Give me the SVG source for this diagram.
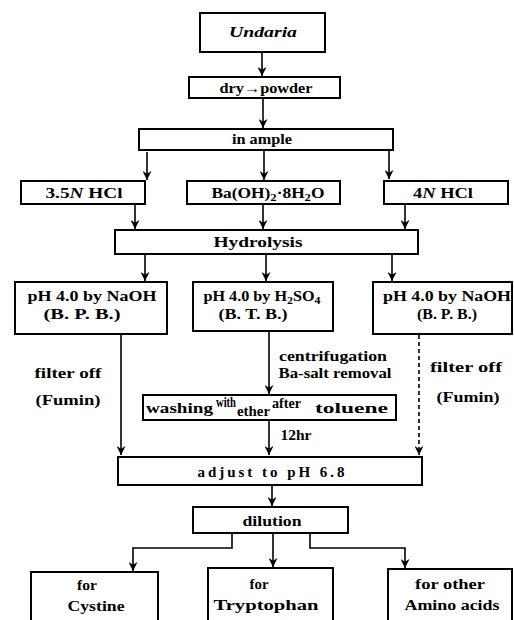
<svg xmlns="http://www.w3.org/2000/svg" width="514" height="620" viewBox="0 0 514 620">
<defs>
<style>
.box{fill:#fff;stroke:#000;stroke-width:2}
.t{font-family:"Liberation Serif","Times New Roman",serif;font-weight:bold;font-size:15px;fill:#000;text-anchor:middle}
.s{font-size:11px}
.w{font-size:14px}
.c{stroke:#000;stroke-width:1.6;fill:none}
.d{stroke-dasharray:4,3}
</style>
<marker id="ah" viewBox="0 0 10 10" refX="10" refY="5" markerWidth="9" markerHeight="9" markerUnits="userSpaceOnUse" orient="auto">
<path d="M0,0 L10,5 L0,10 L3,5 z" fill="#000"/>
</marker>
</defs>
<rect width="514" height="620" fill="#fff"/>

<g id="connectors">
<line class="c" x1="262" y1="52" x2="262" y2="76" marker-end="url(#ah)"/>
<line class="c" x1="263" y1="98" x2="263" y2="128" marker-end="url(#ah)"/>
<line class="c" x1="147" y1="152" x2="147" y2="180" marker-end="url(#ah)"/>
<line class="c" x1="264" y1="150" x2="264" y2="180" marker-end="url(#ah)"/>
<line class="c" x1="389" y1="150" x2="389" y2="179" marker-end="url(#ah)"/>
<line class="c" x1="135" y1="205" x2="135" y2="229" marker-end="url(#ah)"/>
<line class="c" x1="263" y1="205" x2="263" y2="229" marker-end="url(#ah)"/>
<line class="c" x1="405" y1="205" x2="405" y2="229" marker-end="url(#ah)"/>
<line class="c" x1="145" y1="254" x2="145" y2="281" marker-end="url(#ah)"/>
<line class="c" x1="266" y1="254" x2="266" y2="281" marker-end="url(#ah)"/>
<line class="c" x1="392" y1="254" x2="392" y2="281" marker-end="url(#ah)"/>
<line class="c" x1="121" y1="335" x2="121" y2="455" marker-end="url(#ah)"/>
<line class="c" x1="269" y1="332" x2="269" y2="394" marker-end="url(#ah)"/>
<line class="c d" x1="419" y1="335" x2="419" y2="455" marker-end="url(#ah)"/>
<line class="c" x1="269" y1="421" x2="269" y2="455" marker-end="url(#ah)"/>
<line class="c" x1="272" y1="486" x2="272" y2="506" marker-end="url(#ah)"/>
<polyline class="c" points="232,534 232,548 133,548 133,571" marker-end="url(#ah)"/>
<line class="c" x1="273" y1="534" x2="273" y2="567" marker-end="url(#ah)"/>
<polyline class="c" points="310,534 310,548 405,548 405,568" marker-end="url(#ah)"/>
</g>

<g id="undaria">
<rect class="box" x="200" y="13" width="125" height="39"/>
<text class="t" x="263" y="37" font-style="italic" font-size="17" textLength="68" lengthAdjust="spacingAndGlyphs">Undaria</text>
</g>
<g id="drypowder">
<rect class="box" x="189" y="77" width="151" height="21"/>
<text class="t" x="266" y="93" textLength="93" lengthAdjust="spacingAndGlyphs">dry→powder</text>
</g>
<g id="inample">
<rect class="box" x="139" y="129" width="254" height="21"/>
<text class="t" x="262" y="144" textLength="60" lengthAdjust="spacingAndGlyphs">in ample</text>
</g>
<g id="hcl35">
<rect class="box" x="21" y="181" width="124" height="23"/>
<text class="t" x="84" y="198" textLength="77" lengthAdjust="spacingAndGlyphs">3.5<tspan font-style="italic">N</tspan> HCl</text>
</g>
<g id="baoh">
<rect class="box" x="187" y="181" width="153" height="23"/>
<text class="t" x="268" y="198" textLength="113" lengthAdjust="spacingAndGlyphs">Ba(OH)<tspan class="s" dy="3">2</tspan><tspan dy="-3">·8H</tspan><tspan class="s" dy="3">2</tspan><tspan dy="-3">O</tspan></text>
</g>
<g id="hcl4">
<rect class="box" x="384" y="181" width="124" height="23"/>
<text class="t" x="443" y="198" textLength="60" lengthAdjust="spacingAndGlyphs">4<tspan font-style="italic">N</tspan> HCl</text>
</g>
<g id="hydrolysis">
<rect class="box" x="115" y="230" width="303" height="24"/>
<text class="t" x="258" y="247" textLength="89" lengthAdjust="spacingAndGlyphs">Hydrolysis</text>
</g>
<g id="ph1">
<rect class="box" x="15" y="282" width="152" height="52"/>
<text class="t" x="92" y="301" textLength="129" lengthAdjust="spacingAndGlyphs">pH 4.0 by NaOH</text>
<text class="t" x="82" y="319" textLength="77" lengthAdjust="spacingAndGlyphs">(B. P. B.)</text>
</g>
<g id="ph2">
<rect class="box" x="193" y="282" width="140" height="49"/>
<text class="t" x="262" y="301" textLength="117" lengthAdjust="spacingAndGlyphs">pH 4.0 by H<tspan class="s" dy="3">2</tspan><tspan dy="-3">SO</tspan><tspan class="s" dy="3">4</tspan></text>
<text class="t" x="253" y="319" textLength="69" lengthAdjust="spacingAndGlyphs">(B. T. B.)</text>
</g>
<g id="ph3">
<rect class="box" x="373" y="282" width="139" height="52"/>
<text class="t" x="447" y="301" textLength="128" lengthAdjust="spacingAndGlyphs">pH 4.0 by NaOH</text>
<text class="t" x="447" y="319" textLength="60" lengthAdjust="spacingAndGlyphs">(B. P. B.)</text>
</g>
<g id="labels">
<text class="t" x="68" y="378" textLength="67" lengthAdjust="spacingAndGlyphs">filter off</text>
<text class="t" x="68" y="405" textLength="65" lengthAdjust="spacingAndGlyphs">(Fumin)</text>
<text class="t" x="333" y="361" textLength="108" lengthAdjust="spacingAndGlyphs">centrifugation</text>
<text class="t" x="335" y="378" textLength="113" lengthAdjust="spacingAndGlyphs">Ba-salt removal</text>
<text class="t" x="466" y="372" textLength="72" lengthAdjust="spacingAndGlyphs">filter off</text>
<text class="t" x="468" y="402" textLength="63" lengthAdjust="spacingAndGlyphs">(Fumin)</text>
<text class="t" x="296" y="440" textLength="31" lengthAdjust="spacingAndGlyphs">12hr</text>
</g>
<g id="washing">
<rect class="box" x="143" y="395" width="253" height="25"/>
<text class="t" style="text-anchor:start" x="146" y="413"><tspan textLength="67" lengthAdjust="spacingAndGlyphs">washing</tspan><tspan class="w" x="216" y="407" textLength="20" lengthAdjust="spacingAndGlyphs">with</tspan><tspan x="237" y="416" textLength="33" lengthAdjust="spacingAndGlyphs">ether</tspan><tspan class="w" x="272" y="408" textLength="29" lengthAdjust="spacingAndGlyphs">after</tspan><tspan x="315" y="413" textLength="73" lengthAdjust="spacingAndGlyphs">toluene</tspan></text>
</g>
<g id="adjust">
<rect class="box" x="118" y="457" width="304" height="28"/>
<text class="t" x="271" y="477" font-size="16" textLength="147" lengthAdjust="spacing">adjust to pH 6.8</text>
</g>
<g id="dilution">
<rect class="box" x="193" y="507" width="155" height="26"/>
<text class="t" x="272" y="526" textLength="59" lengthAdjust="spacingAndGlyphs">dilution</text>
</g>
<g id="cystine">
<rect class="box" x="31" y="572" width="127" height="60"/>
<text class="t" x="87" y="590" textLength="20" lengthAdjust="spacingAndGlyphs">for</text>
<text class="t" x="96" y="611" textLength="57" lengthAdjust="spacingAndGlyphs">Cystine</text>
</g>
<g id="tryptophan">
<rect class="box" x="208" y="568" width="125" height="64"/>
<text class="t" x="259" y="589" textLength="19" lengthAdjust="spacingAndGlyphs">for</text>
<text class="t" x="266" y="610" textLength="105" lengthAdjust="spacingAndGlyphs">Tryptophan</text>
</g>
<g id="amino">
<rect class="box" x="388" y="569" width="124" height="63"/>
<text class="t" x="450" y="589" textLength="70" lengthAdjust="spacingAndGlyphs">for other</text>
<text class="t" x="452" y="610" textLength="95" lengthAdjust="spacingAndGlyphs">Amino acids</text>
</g>
</svg>
